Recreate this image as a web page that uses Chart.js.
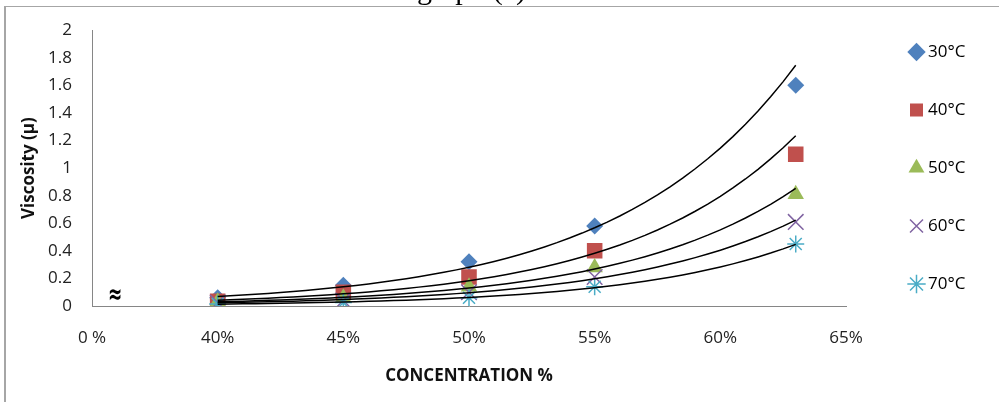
<!DOCTYPE html>
<html>
<head>
<meta charset="utf-8">
<script src="https://cdn.jsdelivr.net/npm/chart.js@4/dist/chart.umd.min.js"></script>
<style>
html, body { margin: 0; padding: 0; background: #fff; }
#wrap { position: relative; width: 999px; height: 402px; overflow: hidden; }
#myChart { position: absolute; left: 0; top: 0; }
.cut { position: absolute; left: 417px; top: -26px; font: 30px/30px "Liberation Serif", serif; white-space: nowrap; color: #000; }
.frameTop { position: absolute; left: 4px; top: 6px; width: 995px; height: 0; border-top: 1px solid #a6a6a6; }
.frameLeft { position: absolute; left: 4px; top: 6px; width: 0; height: 396px; border-left: 2px solid #a6a6a6; }
</style>
</head>
<body>
<div id="wrap">
  <canvas id="myChart" width="999" height="402"></canvas>
  <div class="cut">graph (a)</div>
  <div class="frameTop"></div>
  <div class="frameLeft"></div>
</div>
<script>
const concentration = [40, 45, 50, 55, 63];
const temps = ["30°C", "40°C", "50°C", "60°C", "70°C"];
const visc30 = [0.06, 0.15, 0.32, 0.58, 1.6];
const visc40 = [0.035, 0.1, 0.21, 0.4, 1.1];
const visc50 = [0.03, 0.06, 0.14, 0.28, 0.81];
const visc60 = [0.025, 0.04, 0.1, 0.21, 0.61];
const visc70 = [0.015, 0.025, 0.06, 0.14, 0.45];
// 35 sits at the axis break and is printed as "0 %"
const xTicks = [35, 40, 45, 50, 55, 60, 65];

const series = [visc30, visc40, visc50, visc60, visc70];
const colors = ["#4F81BD", "#C0504D", "#9BBB59", "#8064A2", "#4BACC6"];
const styles = ["rectRot", "rect", "triangle", "crossRot", "star"];
const radii = [8.5, 11, 9.5, 11, 8.5];
const font = '"Open Sans", sans-serif';

// excel style exponential trendline (least squares on ln y)
function expFit(xs, ys) {
    const n = xs.length;
    const ly = ys.map(Math.log);
    const mx = xs.reduce((a, b) => a + b) / n;
    const my = ly.reduce((a, b) => a + b) / n;
    let sxy = 0, sxx = 0;
    xs.forEach((x, i) => {
        sxy += (x - mx) * (ly[i] - my);
        sxx += (x - mx) * (x - mx);
    });
    const b = sxy / sxx;
    return { a: my - b * mx, b: b };
}

const datasets = [];
series.forEach((vals, i) => {
    datasets.push({
        type: "scatter",
        label: temps[i],
        data: concentration.map((c, j) => ({ x: c, y: vals[j] })),
        pointStyle: styles[i],
        pointRadius: radii[i],
        backgroundColor: colors[i],
        borderColor: colors[i],
        borderWidth: i > 2 ? 1.5 : 0,
        order: 5 - i
    });
});
series.forEach((vals, i) => {
    const fit = expFit(concentration, vals);
    const pts = [];
    for (let x = concentration[0]; x <= concentration[concentration.length - 1] + 0.001; x += 0.5) {
        pts.push({ x: x, y: Math.exp(fit.a + fit.b * x) });
    }
    datasets.push({
        type: "line",
        label: "trend " + temps[i],
        data: pts,
        borderColor: "#000",
        borderWidth: 1.5,
        pointRadius: 0,
        fill: false,
        order: 0
    });
});

const legendPlace = {
    id: "legendPlace",
    afterLayout(chart) {
        const lg = chart.legend;
        lg.left = 872.5;
        lg.right = 999;
        lg.top = 2.5;
        lg.bottom = 402;
    }
};

const axisBreak = {
    id: "axisBreak",
    afterDraw(chart) {
        const { ctx, scales: { x, y } } = chart;
        ctx.save();
        ctx.translate(x.getPixelForValue(36) - 2, y.bottom - 10);
        ctx.scale(1, 1.6);
        ctx.font = 'bold 17px "DejaVu Sans"';
        ctx.fillStyle = "#000";
        ctx.textAlign = "center";
        ctx.textBaseline = "middle";
        ctx.fillText("≈", 0, 0);
        ctx.restore();
    }
};

new Chart("myChart", {
    type: "scatter",
    data: { datasets: datasets },
    options: {
        responsive: false,
        animation: false,
        layout: { padding: { top: 26, right: 153, bottom: 0, left: 0 } },
        plugins: {
            legend: {
                position: "chartArea",
                align: "start",
                labels: {
                    usePointStyle: true,
                    boxWidth: 6,
                    boxHeight: 13,
                    padding: 41,
                    color: "#000",
                    font: { family: font, size: 17 },
                    filter: (item) => item.datasetIndex < 5,
                    sort: (a, b) => a.datasetIndex - b.datasetIndex
                }
            },
            tooltip: { enabled: false }
        },
        scales: {
            x: {
                type: "linear",
                min: 35,
                max: 65,
                afterBuildTicks: (s) => { s.ticks = xTicks.map(v => ({ value: v })); },
                afterFit: (s) => { s.height = 96; },
                ticks: {
                    callback: (v) => v === 35 ? "0 %" : v + "%",
                    padding: 22,
                    color: "#222",
                    autoSkip: false,
                    maxRotation: 0,
                    font: { family: font, size: 17 }
                },
                grid: { display: false, drawTicks: false },
                border: { color: "#868686" },
                title: {
                    display: true,
                    text: "CONCENTRATION %",
                    color: "#111",
                    padding: 16,
                    font: { family: font, size: 17, weight: "bold" }
                }
            },
            y: {
                min: 0,
                max: 2,
                afterFit: (s) => { s.width = 92; },
                ticks: {
                    stepSize: 0.2,
                    padding: 20,
                    color: "#222",
                    callback: (v) => String(Math.round(v * 10) / 10),
                    font: { family: font, size: 17 }
                },
                grid: { display: false, drawTicks: false },
                border: { color: "#868686" },
                title: {
                    display: true,
                    text: "Viscosity (μ)",
                    color: "#111",
                    padding: 19,
                    font: { family: font, size: 17, weight: "bold" }
                }
            }
        }
    },
    plugins: [legendPlace, axisBreak]
});
</script>
</body>
</html>
